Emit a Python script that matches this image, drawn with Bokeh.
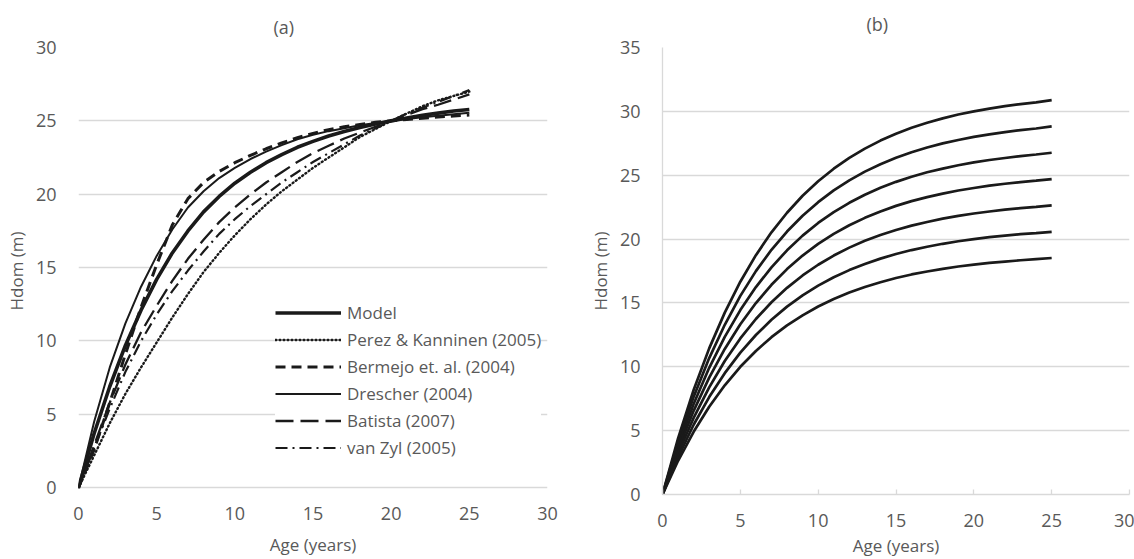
from bokeh.plotting import figure
from bokeh.layouts import row
from bokeh.models import FixedTicker, Legend, LegendItem, Title
from bokeh.embed import file_html
from bokeh.resources import INLINE

# ---------------- data ----------------
ages = list(range(0, 26))

# panel (a)
model    = [0, 3.7, 6.9, 9.7, 12.1, 14.2, 16.0, 17.5, 18.8, 19.85, 20.75, 21.5, 22.15, 22.7, 23.2, 23.6, 23.97, 24.28, 24.55, 24.79, 25.0, 25.2, 25.38, 25.53, 25.67, 25.78]
perez    = [0, 2.2, 4.4, 6.4, 8.2, 9.9, 11.6, 13.2, 14.7, 16.0, 17.2, 18.3, 19.3, 20.2, 21.0, 21.8, 22.5, 23.2, 23.9, 24.45, 25.0, 25.5, 26.0, 26.4, 26.7, 27.0]
bermejo  = [0, 2.6, 5.8, 9.1, 12.3, 15.2, 17.9, 19.7, 20.8, 21.55, 22.15, 22.65, 23.1, 23.5, 23.85, 24.15, 24.4, 24.6, 24.75, 24.9, 25.0, 25.1, 25.18, 25.26, 25.33, 25.4]
drescher = [0, 4.5, 8.2, 11.2, 13.7, 15.8, 17.6, 19.1, 20.2, 21.1, 21.8, 22.4, 22.9, 23.35, 23.75, 24.05, 24.3, 24.5, 24.7, 24.85, 25.0, 25.12, 25.24, 25.35, 25.45, 25.55]
batista  = [0, 2.9, 5.8, 8.4, 10.6, 12.4, 14.1, 15.6, 16.9, 18.1, 19.1, 20.0, 20.8, 21.5, 22.2, 22.8, 23.3, 23.8, 24.2, 24.6, 25.0, 25.4, 25.8, 26.1, 26.45, 26.8]
van_zyl  = [0, 2.7, 5.4, 7.9, 10.0, 11.8, 13.4, 14.8, 16.1, 17.3, 18.3, 19.2, 20.0, 20.8, 21.5, 22.2, 22.8, 23.4, 24.0, 24.5, 25.0, 25.5, 25.9, 26.3, 26.7, 27.1]

names_a = ["Model", "Perez & Kanninen (2005)", "Bermejo et. al. (2004)",
           "Drescher (2004)", "Batista (2007)", "van Zyl (2005)"]

# panel (b)
si_30 = [0, 4.40, 8.18, 11.44, 14.24, 16.66, 18.74, 20.53, 22.06, 23.39, 24.53, 25.51, 26.36, 27.08, 27.71, 28.25, 28.71, 29.11, 29.45, 29.75, 30.00, 30.22, 30.41, 30.57, 30.71, 30.88]
si_28 = [0, 4.10, 7.64, 10.68, 13.29, 15.55, 17.49, 19.16, 20.59, 21.83, 22.89, 23.81, 24.60, 25.28, 25.86, 26.36, 26.80, 27.17, 27.49, 27.76, 28.00, 28.20, 28.38, 28.53, 28.66, 28.82]
si_26 = [0, 3.81, 7.09, 9.92, 12.34, 14.44, 16.24, 17.79, 19.12, 20.27, 21.26, 22.11, 22.84, 23.47, 24.01, 24.48, 24.88, 25.23, 25.52, 25.78, 26.00, 26.19, 26.35, 26.49, 26.62, 26.76]
si_24 = [0, 3.52, 6.55, 9.15, 11.40, 13.33, 14.99, 16.42, 17.65, 18.71, 19.62, 20.41, 21.08, 21.66, 22.16, 22.60, 22.97, 23.28, 23.56, 23.80, 24.00, 24.18, 24.33, 24.46, 24.57, 24.70]
si_22 = [0, 3.23, 6.00, 8.39, 10.45, 12.22, 13.74, 15.05, 16.18, 17.15, 17.99, 18.71, 19.33, 19.86, 20.32, 20.71, 21.05, 21.34, 21.60, 21.81, 22.00, 22.16, 22.30, 22.42, 22.52, 22.64]
si_20 = [0, 2.93, 5.46, 7.63, 9.50, 11.11, 12.49, 13.68, 14.71, 15.59, 16.35, 17.01, 17.57, 18.05, 18.47, 18.83, 19.14, 19.40, 19.63, 19.83, 20.00, 20.15, 20.27, 20.38, 20.47, 20.57]
si_18 = [0, 2.64, 4.91, 6.87, 8.55, 10.00, 11.24, 12.32, 13.24, 14.03, 14.72, 15.31, 15.81, 16.25, 16.62, 16.95, 17.23, 17.46, 17.67, 17.85, 18.00, 18.13, 18.24, 18.34, 18.43, 18.52]

x_ticks = [0, 5, 10, 15, 20, 25, 30]
y_ticks_a = [0, 5, 10, 15, 20, 25, 30]
y_ticks_b = [0, 5, 10, 15, 20, 25, 30, 35]

FONT = "Open Sans"
TXT = "#595959"
GRID = "#d9d9d9"
INK = "#1a1a1a"


def style(p, ticks_y):
    p.xaxis.ticker = FixedTicker(ticks=x_ticks)
    p.yaxis.ticker = FixedTicker(ticks=ticks_y)
    p.xgrid.grid_line_color = None
    p.ygrid.grid_line_color = GRID
    p.ygrid.grid_line_width = 1.3
    p.outline_line_color = None
    for ax in (p.xaxis[0], p.yaxis[0]):
        ax.major_label_text_font = FONT
        ax.major_label_text_font_size = "18px"
        ax.major_label_text_color = TXT
        ax.axis_label_text_font = FONT
        ax.axis_label_text_font_size = "17px"
        ax.axis_label_text_font_style = "normal"
        ax.axis_label_text_color = TXT
        ax.minor_tick_line_color = None
    p.xaxis.axis_label = "Age (years)"
    p.yaxis.axis_label = "Hdom (m)"
    p.yaxis.major_tick_line_color = None
    p.yaxis.major_label_standoff = 16
    p.yaxis.axis_label_standoff = 5


# ---------------- panel (a) ----------------
# frames of the two panels are aligned by the row layout, so panel (a)'s
# value axis reaches a little below zero to put its zero line where it is
pa = figure(width=570, height=559, x_range=(0, 30), y_range=(-0.46, 30),
            output_backend="svg", toolbar_location=None,
            min_border_left=78, min_border_right=23,
            min_border_top=47, min_border_bottom=64)
style(pa, y_ticks_a)
pa.xaxis.axis_line_color = None
pa.yaxis.axis_line_color = None
pa.xaxis.major_tick_line_color = None
pa.xaxis.major_tick_out = 0
pa.xaxis.major_tick_in = 0
pa.xaxis.major_label_standoff = 12
pa.xaxis.axis_label_standoff = 10

specs_a = [
    (model, dict(line_width=3.6)),
    (perez, dict(line_width=2.4, line_dash="1 3", line_cap="round")),
    (bermejo, dict(line_width=3.0, line_dash="10 6")),
    (drescher, dict(line_width=2.0)),
    (batista, dict(line_width=2.3, line_dash="18 7")),
    (van_zyl, dict(line_width=2.2, line_dash="12 5 2 5")),
]
items = []
for name, (ys, kw) in zip(names_a, specs_a):
    r = pa.line(ages, ys, line_color=INK, **kw)
    items.append(LegendItem(label=name, renderers=[r]))

legend = Legend(items=items, location=(197, 34), margin=0, padding=8,
                spacing=2, glyph_width=66, glyph_height=25, label_height=25,
                label_standoff=6, border_line_color=None,
                background_fill_color="white", background_fill_alpha=1.0,
                label_text_font=FONT, label_text_font_size="17px",
                label_text_color=TXT)
pa.add_layout(legend)

pa.add_layout(Title(text="(a)", align="left", offset=195, standoff=14,
                    vertical_align="top",
                    text_font=FONT, text_font_size="18px",
                    text_font_style="normal", text_color=TXT), "above")

# ---------------- panel (b) ----------------
pb = figure(width=564, height=559, x_range=(0, 30), y_range=(0, 35),
            output_backend="svg", toolbar_location=None,
            min_border_left=92, min_border_right=5,
            min_border_top=47, min_border_bottom=64)
style(pb, y_ticks_b)
pb.xaxis.axis_line_color = GRID
pb.yaxis.axis_line_color = GRID
pb.xaxis.axis_line_width = 1.3
pb.yaxis.axis_line_width = 1.3
pb.xaxis.major_tick_line_color = GRID
pb.xaxis.major_tick_line_width = 1.3
pb.xaxis.major_tick_in = 5
pb.xaxis.major_tick_out = 0
pb.xaxis.major_label_standoff = 19
pb.xaxis.axis_label_standoff = 4

for ys in (si_30, si_28, si_26, si_24, si_22, si_20, si_18):
    pb.line(ages, ys, line_color=INK, line_width=2.7)

pb.add_layout(Title(text="(b)", align="left", offset=204, standoff=20,
                    vertical_align="top",
                    text_font=FONT, text_font_size="18px",
                    text_font_style="normal", text_color=TXT), "above")

layout = row(pa, pb)
open("out.html", "w").write(file_html(layout, INLINE))
